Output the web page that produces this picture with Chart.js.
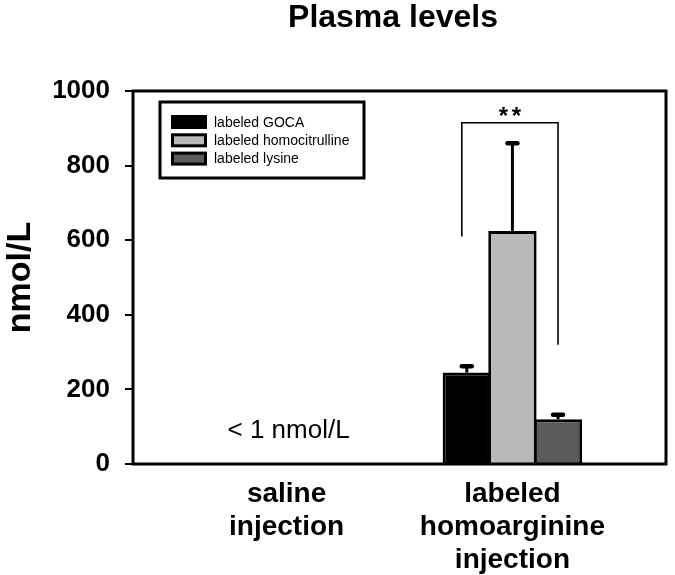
<!DOCTYPE html>
<html>
<head>
<meta charset="utf-8">
<script src="https://cdn.jsdelivr.net/npm/chart.js@4.4.1/dist/chart.umd.min.js"></script>
<style>
  html, body { margin: 0; padding: 0; background: #fff; }
</style>
</head>
<body>
<canvas id="myChart" width="675" height="575"></canvas>
<script>
// data
const categories = [['saline', 'injection'], ['labeled', 'homoarginine', 'injection']];
const seriesNames = ['labeled GOCA', 'labeled homocitrulline', 'labeled lysine'];
const goca = [0, 245];
const homocitrulline = [0, 625];
const lysine = [0, 120];
const gocaErr = [0, 17];
const homocitrullineErr = [0, 235];
const lysineErr = [0, 12];
const yTicks = [0, 200, 400, 600, 800, 1000];
const bracketLevels = [610, 915, 320]; // left foot, top, right foot (nmol/L)

const FONT = "'Liberation Sans', Arial, sans-serif";
const colors = ['#000000', '#b9b9b9', '#5a5a5a'];
const values = [goca, homocitrulline, lysine];
const errors = [gocaErr, homocitrullineErr, lysineErr];

Chart.defaults.font.family = FONT;
Chart.defaults.color = '#000';

const datasets = seriesNames.map((name, i) => ({
  label: name,
  data: values[i].map((v, j) => ({ x: j, y: v })),
  errors: errors[i],
  backgroundColor: colors[i],
  borderColor: '#000',
  borderWidth: 3,
  borderSkipped: 'bottom',
  categoryPercentage: 0.606,
  barPercentage: 1.06
}));

const extras = {
  id: 'extras',
  afterDatasetsDraw(chart) {
    const c = chart.ctx;
    const area = chart.chartArea;
    const y = chart.scales.y;
    const x = chart.scales.x;
    c.save();

    // error bars (upper only)
    chart.data.datasets.forEach((ds, i) => {
      const meta = chart.getDatasetMeta(i);
      meta.data.forEach((el, j) => {
        const err = ds.errors[j];
        if (!err) return;
        const top = y.getPixelForValue(ds.data[j].y + err);
        c.strokeStyle = '#000';
        c.lineCap = 'butt';
        c.lineWidth = 3;
        c.beginPath();
        c.moveTo(el.x, el.y);
        c.lineTo(el.x, top);
        c.stroke();
        c.lineCap = 'round';
        c.lineWidth = 4.5;
        c.beginPath();
        c.moveTo(el.x - 5, top);
        c.lineTo(el.x + 5, top);
        c.stroke();
      });
    });

    // frame
    c.lineCap = 'butt';
    c.lineWidth = 3;
    c.strokeStyle = '#000';
    c.strokeRect(area.left, area.top, area.right - area.left, area.bottom - area.top);

    // significance bracket
    const xl = chart.getDatasetMeta(0).data[1].x - 5;
    const xr = chart.getDatasetMeta(2).data[1].x;
    const yt = y.getPixelForValue(bracketLevels[1]);
    c.lineWidth = 1.6;
    c.beginPath();
    c.moveTo(xl, y.getPixelForValue(bracketLevels[0]));
    c.lineTo(xl, yt);
    c.lineTo(xr, yt);
    c.lineTo(xr, y.getPixelForValue(bracketLevels[2]));
    c.stroke();
    c.fillStyle = '#000';
    c.font = 'bold 24px ' + FONT;
    c.textAlign = 'center';
    c.textBaseline = 'alphabetic';
    const mid = (xl + xr) / 2;
    c.fillText('*', mid - 6.5, yt + 1);
    c.fillText('*', mid + 6.5, yt + 1);

    // below-detection note
    c.font = '26px ' + FONT;
    c.textBaseline = 'middle';
    c.fillText('< 1 nmol/L', x.getPixelForValue(0) + 2, y.getPixelForValue(88));

    // legend
    c.fillStyle = '#fff';
    c.fillRect(160, 102, 204, 76);
    c.lineWidth = 3;
    c.strokeRect(160, 102, 204, 76);
    c.font = '14px ' + FONT;
    c.textAlign = 'left';
    c.textBaseline = 'middle';
    chart.data.datasets.forEach((ds, i) => {
      const cy = 122 + i * 18.3;
      c.fillStyle = '#000';
      c.fillRect(171, cy - 7, 36, 14);
      c.fillStyle = ds.backgroundColor;
      c.fillRect(174, cy - 4, 30, 8);
      c.fillStyle = '#000';
      c.fillText(ds.label, 214, cy + 1);
    });

    c.restore();
  },
  afterDraw(chart) {
    const c = chart.ctx;
    c.save();
    c.fillStyle = '#000';
    c.font = 'bold 32px ' + FONT;
    c.textAlign = 'center';
    c.textBaseline = 'alphabetic';
    c.fillText('Plasma levels', 393, 27);
    c.restore();
  }
};

const config = {
  type: 'bar',
  data: { datasets: datasets },
  options: {
    responsive: false,
    animation: false,
    devicePixelRatio: 1,
    layout: { padding: { top: 91, right: 9, left: 0, bottom: 0 } },
    plugins: {
      legend: { display: false },
      tooltip: { enabled: false },
      title: { display: false }
    },
    scales: {
      x: {
        type: 'linear',
        offset: false,
        min: -0.68,
        max: 1.68,
        afterBuildTicks: (s) => { s.ticks = categories.map((c, i) => ({ value: i })); },
        afterFit: (s) => { s.height = 111; },
        grid: { display: false, drawTicks: false, offset: false },
        border: { display: false },
        ticks: {
          callback: (v, i) => categories[i],
          font: { size: 28, weight: 'bold', lineHeight: 1.18 },
          color: '#000',
          padding: 14,
          maxRotation: 0,
          autoSkip: false
        }
      },
      y: {
        min: 0,
        max: 1000,
        afterBuildTicks: (s) => { s.ticks = yTicks.map(v => ({ value: v })); },
        afterFit: (s) => { s.width = 133; },
        grid: { drawOnChartArea: false, drawTicks: true, tickLength: 8, color: '#000', lineWidth: 2 },
        border: { display: false },
        ticks: {
          callback: (v) => String(v),
          font: { size: 26, weight: 'bold' },
          color: '#000',
          padding: 15
        },
        title: {
          display: true,
          text: 'nmol/L',
          font: { size: 34, weight: 'bold' },
          color: '#000',
          padding: 0
        }
      }
    }
  },
  plugins: [extras]
};

const ctx = document.getElementById('myChart');
new Chart(ctx, config);
</script>
</body>
</html>
